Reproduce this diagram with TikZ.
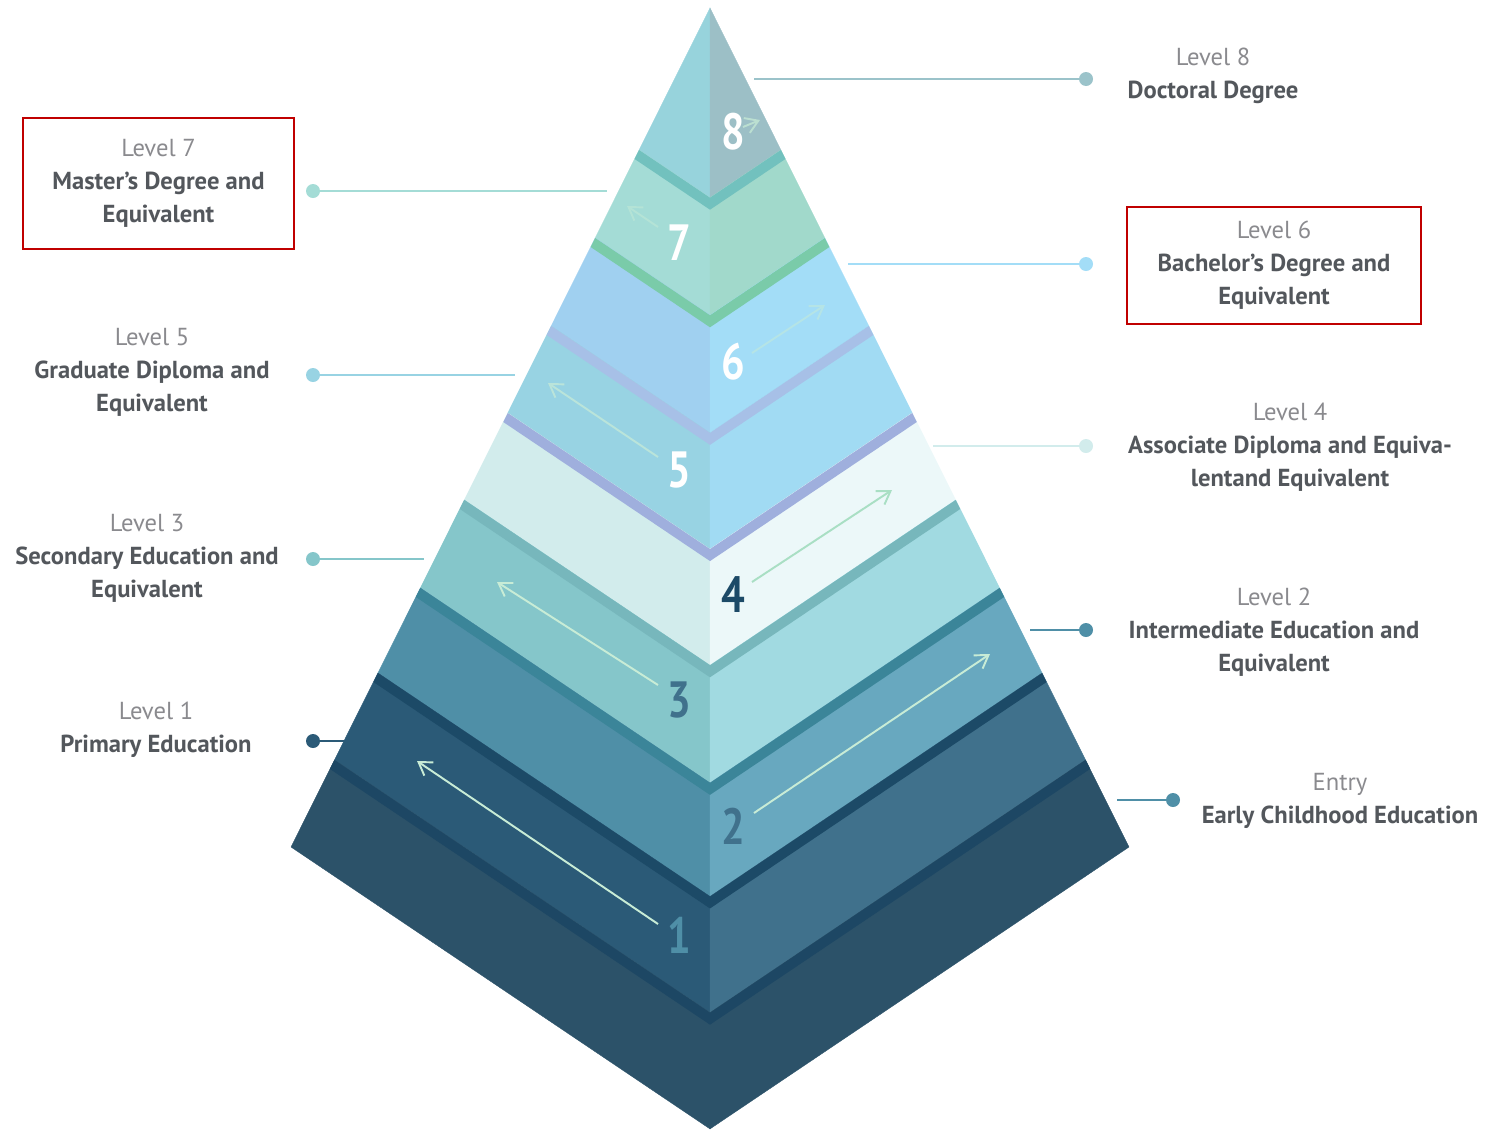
\documentclass[tikz,border=0pt]{standalone}
\usepackage{fontspec}
\setmainfont{PT Sans}
\newfontfamily\numfont{PT Sans}[FakeStretch=0.82]
\usepackage{xcolor}
\usetikzlibrary{arrows.meta,positioning}

% faces and top bands of the layers
\definecolor{p8l}{HTML}{97D3DC}\definecolor{p8r}{HTML}{9CBFC6}
\definecolor{b7}{HTML}{72C1BE}\definecolor{p7l}{HTML}{A4DCD6}\definecolor{p7r}{HTML}{A1D9CB}
\definecolor{b6}{HTML}{7ACBA9}\definecolor{p6l}{HTML}{A0D0F0}\definecolor{p6r}{HTML}{A3DDF7}
\definecolor{b5}{HTML}{A7C0E7}\definecolor{p5l}{HTML}{98D3E3}\definecolor{p5r}{HTML}{A1DBF3}
\definecolor{b4}{HTML}{9FAFDD}\definecolor{p4l}{HTML}{D2ECEC}\definecolor{p4r}{HTML}{ECF8F9}
\definecolor{b3}{HTML}{77B7BC}\definecolor{p3l}{HTML}{85C6CA}\definecolor{p3r}{HTML}{A1DAE1}
\definecolor{b2}{HTML}{3B8599}\definecolor{p2l}{HTML}{4F8FA7}\definecolor{p2r}{HTML}{68A8BF}
\definecolor{b1}{HTML}{1C4A67}\definecolor{p1l}{HTML}{2B5A77}\definecolor{p1r}{HTML}{40718C}
\definecolor{b0}{HTML}{1D4764}\definecolor{p0l}{HTML}{2C5269}\definecolor{p0r}{HTML}{2C5269}
% labels
\definecolor{lvgray}{HTML}{8A8A8E}
\definecolor{txtgray}{HTML}{53575C}
\definecolor{boxred}{HTML}{C00000}
\definecolor{mint}{HTML}{C8ECD6}

\newcommand{\lvtag}[1]{\textcolor{lvgray}{#1}}
\newcommand{\lvname}[1]{\textcolor{txtgray}{\bfseries #1}}

\begin{document}
\begin{tikzpicture}[
        x=0.02cm, y=-0.02cm,
        face/.style={fill=#1, draw=#1, line width=0.2pt},
        lvl/.style={align=center, inner sep=0pt, font=\fontsize{14}{18.7}\selectfont},
        redbox/.style={draw=boxred, line width=1.2pt},
        dot/.style={circle, fill=#1, inner sep=0pt, minimum size=0.28cm},
        leader/.style={draw=#1, line width=1.1pt},
        num/.style={font=\numfont\fontsize{29}{29}\selectfont\bfseries, text=#1, inner sep=0pt},
        trail/.style={draw=#1, line width=1.1pt, -{Straight Barb[length=2.5mm, width=3.2mm]}}
    ]
        \useasboundingbox (0,0) rectangle (1501,1130);

        % pyramid faces
        \foreach \ty/\by/\lc/\rc in {8/150/p8l/p8r, 150/238/p7l/p7r, 238/326/p6l/p6r,
                326/413/p5l/p5r, 413/500/p4l/p4r, 500/588/p3l/p3r,
                588/673/p2l/p2r, 673/760/p1l/p1r, 760/847/p0l/p0r}{
            \pgfmathsetmacro{\xt}{0.4994*(\ty-8)}
            \pgfmathsetmacro{\xb}{0.4994*(\by-8)}
            \pgfmathsetmacro{\ct}{\ty+0.336*(\ty-8)}
            \pgfmathsetmacro{\cb}{\by+0.336*(\by-8)}
            \path[face=\lc] (710-\xt,\ty) -- (710,\ct) -- (710,\cb) -- (710-\xb,\by) -- cycle;
            \path[face=\rc] (710+\xt,\ty) -- (710,\ct) -- (710,\cb) -- (710+\xb,\by) -- cycle;
        }
        % top bands
        \foreach \ty/\bc in {150/b7, 238/b6, 326/b5, 413/b4, 500/b3, 588/b2, 673/b1, 760/b0}{
            \pgfmathsetmacro{\xt}{0.4994*(\ty-8)}
            \pgfmathsetmacro{\xs}{0.4994*(\ty+1)}
            \pgfmathsetmacro{\ct}{\ty+0.336*(\ty-8)}
            \fill[\bc] (710-\xt,\ty) -- (710,\ct) -- (710+\xt,\ty) -- (710+\xs,\ty+9)
                -- (710,\ct+12) -- (710-\xs,\ty+9) -- cycle;
        }

        % trails on the faces
        \foreach \sx/\sy/\ex/\ey/\tc in {743/127/760/120/mint!70!p8r, 658/227/627/206/mint!45!p7l,
                752/353/825/305/mint!50!p6r, 658/457/548/383/mint!70!p5l,
                752/582/892/490/mint!60!b6, 658/685/497/582/mint,
                754/813/990/654/mint, 658/924/417/761/mint}{
            \draw[trail=\tc] (\sx,\sy) -- (\ex,\ey);
        }

        % level numbers
        \node[num=white] (n8) at (733,132) {8};
        \node[num=white] (n7) at (679,243) {7};
        \node[num=white] (n6) at (733,362) {6};
        \node[num=white] (n5) at (679,470) {5};
        \node[num=b1] (n4) at (733,595) {4};
        \node[num=p1r] (n3) at (679,700) {3};
        \node[num=p1r] (n2) at (733,826) {2};
        \node[num=p2l] (n1) at (679,935) {1};

        % leader dots and lines
        \node[dot=p8r!80!p8l] (d8) at (1086,79) {};
        \node[dot=p7l] (d7) at (313,191) {};
        \node[dot=p6r] (d6) at (1086,264) {};
        \node[dot=p5l] (d5) at (313,375) {};
        \node[dot=p4l] (d4) at (1086,446) {};
        \node[dot=p3l] (d3) at (313,559) {};
        \node[dot=p2l] (d2) at (1086,630) {};
        \node[dot=p1l] (d1) at (313,741) {};
        \node[dot=p2l] (d0) at (1173,800) {};
        \coordinate (e8) at (754,79);
        \coordinate (e7) at (607,191);
        \coordinate (e6) at (848,264);
        \coordinate (e5) at (515,375);
        \coordinate (e4) at (933,446);
        \coordinate (e3) at (424,559);
        \coordinate (e2) at (1030,630);
        \coordinate (e1) at (345,741);
        \coordinate (e0) at (1117,800);
        \draw[leader=p8r!80!p8l] (d8) -- (e8);
        \draw[leader=p7l] (d7) -- (e7);
        \draw[leader=p6r] (d6) -- (e6);
        \draw[leader=p5l] (d5) -- (e5);
        \draw[leader=p4l] (d4) -- (e4);
        \draw[leader=p3l] (d3) -- (e3);
        \draw[leader=p2l] (d2) -- (e2);
        \draw[leader=p1l] (d1) -- (e1);
        \draw[leader=p2l] (d0) -- (e0);

        % level texts
        \node[lvl] (t8) at (1213,76) {\lvtag{Level 8}\\\lvname{Doctoral Degree}};
        \node[lvl, redbox, minimum width=5.42cm, minimum height=2.62cm] (t7) at (158.5,183.5)
            {\lvtag{Level 7}\\\lvname{Master's Degree and}\\\lvname{Equivalent}};
        \node[lvl, redbox, minimum width=5.88cm, minimum height=2.34cm] (t6) at (1274,265.5)
            {\lvtag{Level 6}\\\lvname{Bachelor's Degree and}\\\lvname{Equivalent}};
        \node[lvl] (t5) at (152,372) {\lvtag{Level 5}\\\lvname{Graduate Diploma and}\\\lvname{Equivalent}};
        \node[lvl] (t4) at (1290,447) {\lvtag{Level 4}\\\lvname{Associate Diploma and Equiva-}\\\lvname{lentand Equivalent}};
        \node[lvl] (t3) at (147,558) {\lvtag{Level 3}\\\lvname{Secondary Education and}\\\lvname{Equivalent}};
        \node[lvl] (t2) at (1274,632) {\lvtag{Level 2}\\\lvname{Intermediate Education and}\\\lvname{Equivalent}};
        \node[lvl] (t1) at (156,730) {\lvtag{Level 1}\\\lvname{Primary Education}};
        \node[lvl] (t0) at (1340,801) {\lvtag{Entry}\\\lvname{Early Childhood Education}};
    \end{tikzpicture}
\end{document}
